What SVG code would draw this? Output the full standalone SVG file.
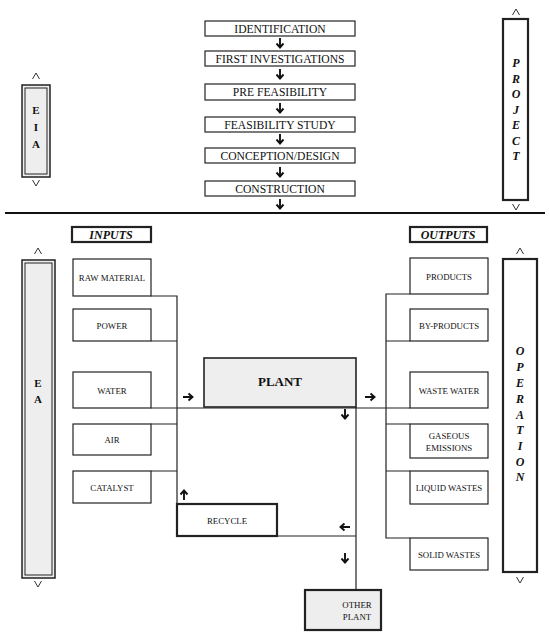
<svg xmlns="http://www.w3.org/2000/svg" xmlns:xlink="http://www.w3.org/1999/xlink" width="550" height="642" viewBox="0 0 550 642">
<style>
text{font-family:"Liberation Serif","Times New Roman",serif;fill:#111;text-anchor:middle}
.box{fill:#fff;stroke:#222;stroke-width:1.2}
.thick{fill:#fff;stroke:#222;stroke-width:2.2}
.gray{fill:#eee;stroke:#222;stroke-width:2.2}
.ln{fill:none;stroke:#222;stroke-width:1.2}
.arr{fill:none;stroke:#111;stroke-width:1.9}
.car{fill:none;stroke:#333;stroke-width:1}
.t11{font-size:11.6px}
.t8{font-size:8.8px}
.side{font-size:11px;font-weight:bold}
.ital{font-size:12px;font-weight:bold;font-style:italic}
</style>
<defs>
<path id="ad" class="arr" d="M0,-5 V4 M-3.5,0.5 L0,4.5 L3.5,0.5"/>
<path id="cu" class="car" d="M-3.5,3 L0,-3 L3.5,3"/>
<path id="cd" class="car" d="M-3.5,-3 L0,3 L3.5,-3"/>
</defs>

<g id="connectors">
<line x1="5" y1="213" x2="545" y2="213" stroke="#111" stroke-width="2.2"/>
<use href="#ad" x="280" y="43"/>
<use href="#ad" x="280" y="74"/>
<use href="#ad" x="280" y="108"/>
<use href="#ad" x="280" y="139"/>
<use href="#ad" x="280" y="172"/>
<use href="#ad" x="280" y="204"/>
<path class="ln" d="M151,296 H177 V504 M151,341 H177 M151,408 H410 M151,424 H177 M151,471 H177"/>
<path class="ln" d="M410,294 H386 V538 H410 M410,341 H386 M410,424 H386 M410,471 H386"/>
<path class="ln" d="M356,407 V590 M277,536 H356"/>
<use href="#ad" transform="translate(188,397) rotate(-90)"/>
<use href="#ad" transform="translate(370,397) rotate(-90)"/>
<use href="#ad" x="345" y="414"/>
<use href="#ad" transform="translate(345,527) rotate(90)"/>
<use href="#ad" x="345" y="558"/>
<use href="#ad" transform="translate(184,495) rotate(180)"/>
<use href="#cu" x="36" y="76"/>
<use href="#cd" x="36" y="183"/>
<use href="#cu" x="516" y="12"/>
<use href="#cd" x="516" y="207"/>
<use href="#cu" x="38" y="251"/>
<use href="#cd" x="38" y="584"/>
<use href="#cu" x="520" y="251"/>
<use href="#cd" x="520" y="580"/>
</g>

<g id="identification"><rect class="box" x="205" y="21" width="150" height="15"/><text class="t11" x="280" y="32.7">IDENTIFICATION</text></g>
<g id="first-investigations"><rect class="box" x="205" y="51" width="150" height="15"/><text class="t11" x="280" y="62.7">FIRST INVESTIGATIONS</text></g>
<g id="pre-feasibility"><rect class="box" x="205" y="84" width="150" height="16"/><text class="t11" x="280" y="96.2">PRE FEASIBILITY</text></g>
<g id="feasibility-study"><rect class="box" x="205" y="117" width="150" height="15"/><text class="t11" x="280" y="128.7">FEASIBILITY STUDY</text></g>
<g id="conception-design"><rect class="box" x="205" y="148" width="150" height="15"/><text class="t11" x="280" y="159.7">CONCEPTION/DESIGN</text></g>
<g id="construction"><rect class="box" x="205" y="181" width="150" height="15"/><text class="t11" x="280" y="192.7">CONSTRUCTION</text></g>

<g id="eia">
<rect x="22" y="85" width="28" height="92" fill="#eee" stroke="#222" stroke-width="1.5"/>
<rect x="25" y="88" width="22" height="86" fill="none" stroke="#222" stroke-width="1"/>
<text class="side" x="36" y="114" font-weight="normal">E</text>
<text class="side" x="36" y="131">I</text>
<text class="side" x="36" y="148">A</text>
</g>

<g id="project">
<rect class="thick" x="503" y="19" width="25" height="181"/>
<text class="ital" x="516" y="67">P</text>
<text class="ital" x="516" y="82.5">R</text>
<text class="ital" x="516" y="98">O</text>
<text class="ital" x="516" y="113.5">J</text>
<text class="ital" x="516" y="129">E</text>
<text class="ital" x="516" y="144.5">C</text>
<text class="ital" x="516" y="160">T</text>
</g>

<g id="inputs"><rect class="thick" x="72" y="227" width="79" height="15"/><text class="ital" x="111" y="238.7">INPUTS</text></g>
<g id="outputs"><rect class="thick" x="410" y="227" width="77" height="15"/><text class="ital" x="448" y="238.7">OUTPUTS</text></g>

<g id="ea">
<rect x="22" y="260" width="33" height="318" fill="#eee" stroke="#222" stroke-width="1.5"/>
<rect x="25" y="263" width="27" height="312" fill="none" stroke="#222" stroke-width="1"/>
<text class="side" x="38" y="387">E</text>
<text class="side" x="38" y="403">A</text>
</g>

<g id="operation">
<rect class="thick" x="503" y="259" width="34" height="313"/>
<text class="ital" x="520" y="355">O</text>
<text class="ital" x="520" y="371">P</text>
<text class="ital" x="520" y="387">E</text>
<text class="ital" x="520" y="403">R</text>
<text class="ital" x="520" y="419">A</text>
<text class="ital" x="520" y="434">T</text>
<text class="ital" x="520" y="450">I</text>
<text class="ital" x="520" y="466">O</text>
<text class="ital" x="520" y="481">N</text>
</g>

<g id="raw-material"><rect class="box" x="73" y="259" width="78" height="37"/><text class="t8" x="112" y="280.5">RAW MATERIAL</text></g>
<g id="power"><rect class="box" x="73" y="309" width="78" height="32"/><text class="t8" x="112" y="328.5">POWER</text></g>
<g id="water"><rect class="box" x="73" y="372" width="78" height="36"/><text class="t8" x="112" y="393.5">WATER</text></g>
<g id="air"><rect class="box" x="73" y="424" width="78" height="31"/><text class="t8" x="112" y="442.5">AIR</text></g>
<g id="catalyst"><rect class="box" x="73" y="471" width="78" height="32"/><text class="t8" x="112" y="490.5">CATALYST</text></g>

<g id="plant"><rect x="204" y="358" width="152" height="49" fill="#eee" stroke="#222" stroke-width="1.6"/><text x="280" y="386" font-size="13px" font-weight="bold">PLANT</text></g>

<g id="recycle"><rect class="thick" x="177" y="504" width="100" height="32"/><text class="t8" x="227" y="523.5">RECYCLE</text></g>
<g id="other-plant"><rect class="gray" x="305" y="590" width="76" height="40"/><text class="t8" x="357" y="608">OTHER</text><text class="t8" x="357" y="620">PLANT</text></g>

<g id="products"><rect class="box" x="410" y="258" width="78" height="36"/><text class="t8" x="449" y="279.5">PRODUCTS</text></g>
<g id="by-products"><rect class="box" x="410" y="309" width="78" height="32"/><text class="t8" x="449" y="328.5">BY-PRODUCTS</text></g>
<g id="waste-water"><rect class="box" x="410" y="372" width="78" height="36"/><text class="t8" x="449" y="393.5">WASTE WATER</text></g>
<g id="gaseous-emissions"><rect class="box" x="410" y="424" width="78" height="34"/><text class="t8" x="449" y="439">GASEOUS</text><text class="t8" x="449" y="450.5">EMISSIONS</text></g>
<g id="liquid-wastes"><rect class="box" x="410" y="471" width="78" height="33"/><text class="t8" x="449" y="490.5">LIQUID WASTES</text></g>
<g id="solid-wastes"><rect class="box" x="410" y="538" width="78" height="32"/><text class="t8" x="449" y="557.5">SOLID WASTES</text></g>
</svg>
